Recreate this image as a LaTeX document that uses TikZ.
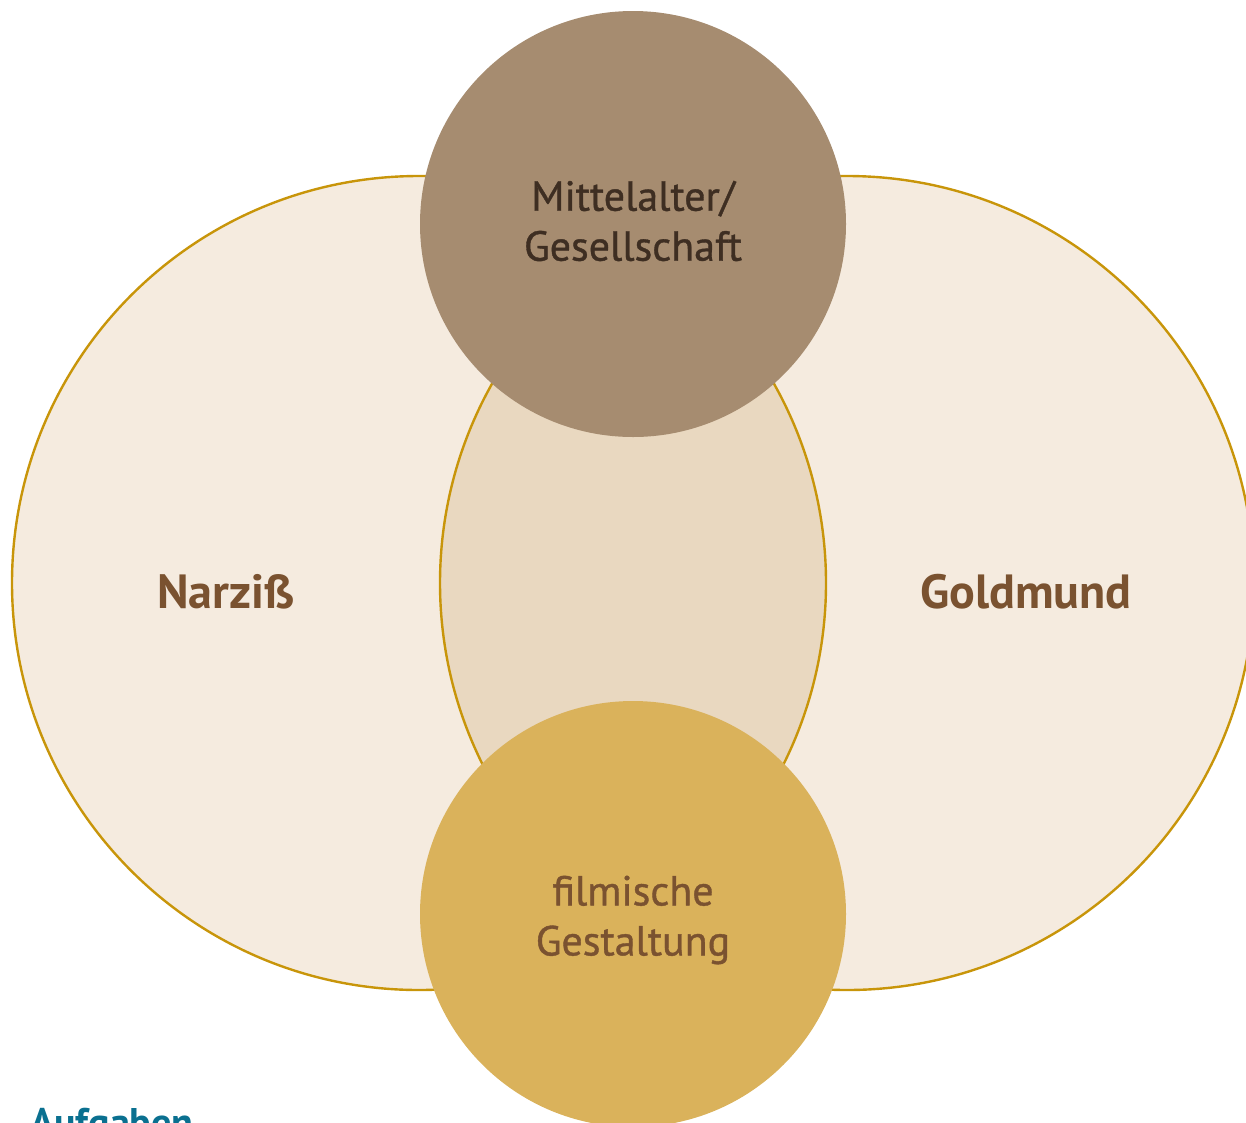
\documentclass[tikz,border=0pt]{standalone}
\usepackage{fontspec}
\setmainfont{PT Sans}
\newfontfamily\mediumsans[FakeBold=0.9]{PT Sans}
\definecolor{paleBeige}{HTML}{F5EBDF}
\definecolor{lensBeige}{HTML}{E9D8C0}
\definecolor{ringGold}{HTML}{C8950A}
\definecolor{topBrown}{HTML}{A68C70}
\definecolor{topText}{HTML}{3E2E22}
\definecolor{bottomGold}{HTML}{DAB25B}
\definecolor{labelBrown}{HTML}{7A5230}
\definecolor{taskTeal}{HTML}{0A7090}

\begin{document}
\begin{tikzpicture}[x=1pt,y=-1pt,
  bigset/.style={circle,minimum size=814pt,inner sep=0pt},
  smallset/.style={circle,minimum size=426pt,inner sep=0pt},
  settext/.style={align=center,font=\mediumsans\fontsize{42}{50}\selectfont},
  setlabel/.style={font=\fontsize{48}{54}\selectfont\bfseries,text=labelBrown}]
  \useasboundingbox (0,0) rectangle (1246,1122);
  \clip (0,0) rectangle (1246,1122);
   \coordinate (Lcenter) at (419,583);
   \coordinate (Rcenter) at (847,583);
   % the two big sets
  \node[bigset,fill=paleBeige] (narziss) at (Lcenter) {};
  \node[bigset,fill=paleBeige] (goldmund) at (Rcenter) {};
  \begin{scope}
    \clip (Lcenter) circle (407);
    \fill[lensBeige] (Rcenter) circle (407);
  \end{scope}
  \draw[ringGold,line width=2.4pt] (Lcenter) circle (407);
  \draw[ringGold,line width=2.4pt] (Rcenter) circle (407);
   % top and bottom sets
  \node[smallset,fill=topBrown] (mittelalter) at (633,224) {};
  \node[smallset,fill=bottomGold] (film) at (633,914) {};
  \node[settext,text=topText] (mittelalterText) at ([yshift=3pt]mittelalter.center)
    {Mittelalter/\\Gesellschaft};
  \node[settext,text=labelBrown] (filmText) at ([yshift=-6pt]film.center)
    {filmische\\Gestaltung};
  \node[setlabel] (narzissLabel) at (226,592) {Narziß};
  \node[setlabel] (goldmundLabel) at (1026,592) {Goldmund};
  \node[anchor=base west,inner sep=0pt,text=taskTeal,
    font=\fontsize{40}{44}\selectfont\bfseries] (aufgaben) at (30,1136) {Aufgaben};
 \end{tikzpicture}
\end{document}
